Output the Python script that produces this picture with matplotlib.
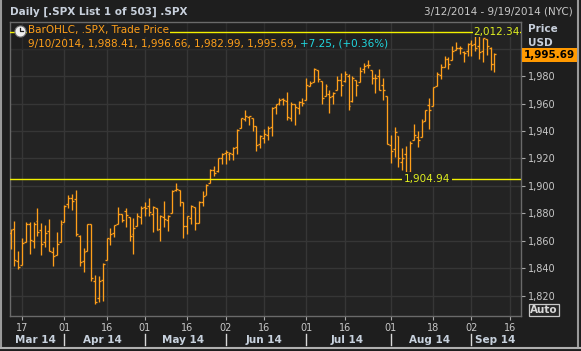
import numpy as np
import pandas as pd
import matplotlib
matplotlib.use('Agg')
import matplotlib.pyplot as plt
from matplotlib.lines import Line2D
import matplotlib.transforms as mtransforms

# trading calendar shown on the axis (NYSE holidays removed)
holidays = ['2014-04-18', '2014-05-26', '2014-07-04', '2014-09-01']
axis_days = pd.bdate_range('2014-03-12', '2014-09-19')
axis_days = axis_days[~axis_days.isin(pd.to_datetime(holidays))]

# daily OHLC of .SPX, 2014-03-12 .. 2014-09-10
opens = [1866.15, 1869.06, 1845.07, 1842.81, 1858.92, 1872.25, 1860.09, 1874.53, 1867.67, 1859.48,
         1867.09, 1852.11, 1850.07, 1859.16,
         1873.96, 1886.61, 1891.43, 1890.25, 1863.92, 1845.48, 1852.64, 1872.28, 1830.65, 1818.18,
         1831.45, 1846.01, 1861.73, 1865.79, 1872.57, 1879.32, 1881.97, 1877.72, 1865.00, 1870.78, 1877.10,
         1884.39, 1885.30, 1879.45, 1883.69, 1868.53, 1877.39, 1875.27, 1880.03, 1896.75, 1897.13,
         1888.16, 1871.19, 1876.66, 1884.88, 1873.34, 1888.19, 1893.32, 1902.01, 1911.77, 1910.60, 1920.33,
         1923.87, 1923.07, 1923.06, 1928.52, 1942.41, 1948.97, 1950.34, 1949.37, 1943.35, 1930.80,
         1934.84, 1937.15, 1942.73, 1957.50, 1960.45, 1962.92, 1961.97, 1949.27, 1959.89, 1956.56, 1960.79,
         1962.29, 1973.06, 1975.88, 1984.22, 1976.39, 1965.10, 1966.67, 1965.76, 1969.86, 1977.36,
         1976.35, 1979.75, 1961.54, 1976.93, 1975.65, 1985.32, 1988.07, 1984.60, 1978.25, 1980.03,
         1973.21, 1965.14,
         1929.80, 1926.62, 1936.34, 1917.29, 1923.03, 1910.35, 1933.43, 1935.73, 1935.60, 1947.41,
         1958.87, 1958.36, 1972.73, 1980.46, 1986.82, 1992.60, 1991.74, 1998.59, 2000.54, 1997.42, 1998.45,
         2004.07, 2003.57, 2001.67, 1998.00, 2007.17, 2000.73, 1988.41]
highs = [1868.38, 1874.40, 1852.44, 1862.30, 1873.76, 1874.14, 1873.49, 1883.97, 1873.34, 1871.87,
         1875.92, 1855.55, 1866.63, 1875.18,
         1885.84, 1893.17, 1893.80, 1897.28, 1864.04, 1854.95, 1872.43, 1872.53, 1835.07, 1834.19,
         1844.02, 1862.31, 1869.63, 1871.89, 1884.89, 1879.75, 1884.06, 1877.72, 1877.01, 1880.60, 1885.20,
         1888.59, 1891.33, 1885.51, 1883.69, 1878.83, 1889.07, 1878.57, 1897.13, 1902.17, 1897.13,
         1888.16, 1878.28, 1886.00, 1884.88, 1888.80, 1896.33, 1901.26, 1912.28, 1914.46, 1920.03, 1924.03,
         1925.88, 1925.07, 1928.63, 1941.74, 1949.44, 1955.55, 1950.86, 1949.37, 1943.35, 1937.30,
         1941.15, 1943.69, 1957.74, 1959.87, 1963.91, 1963.74, 1968.17, 1960.83, 1959.89, 1961.47, 1964.24,
         1978.58, 1976.67, 1985.59, 1984.22, 1976.39, 1974.15, 1969.84, 1968.67, 1979.85, 1982.52,
         1983.94, 1981.80, 1979.91, 1976.93, 1986.24, 1989.23, 1991.39, 1984.60, 1981.52, 1984.85,
         1978.90, 1965.14,
         1937.35, 1942.92, 1936.34, 1927.91, 1928.89, 1932.38, 1944.90, 1939.65, 1948.41, 1955.23,
         1964.04, 1971.99, 1982.57, 1988.57, 1994.76, 1993.54, 2001.95, 2005.04, 2002.14, 1998.55, 2004.36,
         2006.12, 2009.28, 2012.34, 2007.71, 2007.17, 2001.01, 1996.66]
lows = [1854.38, 1841.86, 1839.57, 1842.81, 1858.92, 1850.35, 1854.63, 1863.46, 1849.69, 1855.96,
        1852.56, 1842.11, 1850.07, 1859.16,
        1873.96, 1883.79, 1882.65, 1863.26, 1841.48, 1837.49, 1852.38, 1830.87, 1814.36, 1815.80,
        1816.29, 1846.01, 1856.72, 1863.18, 1872.57, 1873.91, 1870.24, 1859.70, 1850.61, 1870.78, 1872.69,
        1878.04, 1878.50, 1866.77, 1867.72, 1859.79, 1870.05, 1867.02, 1880.03, 1896.06, 1885.77,
        1862.36, 1864.82, 1872.42, 1868.14, 1873.34, 1885.39, 1893.32, 1902.01, 1907.30, 1909.82, 1915.98,
        1915.98, 1918.79, 1918.60, 1922.93, 1942.41, 1947.16, 1944.64, 1940.08, 1925.78, 1927.69,
        1930.91, 1933.55, 1936.16, 1952.26, 1959.17, 1958.89, 1948.34, 1947.49, 1944.69, 1952.18, 1958.22,
        1962.29, 1972.58, 1975.88, 1975.67, 1959.46, 1965.10, 1952.86, 1959.63, 1969.86, 1965.34,
        1975.67, 1955.59, 1960.82, 1965.77, 1975.65, 1982.44, 1985.79, 1974.37, 1967.31, 1969.95,
        1962.42, 1930.67,
        1916.37, 1921.20, 1913.77, 1911.45, 1904.94, 1909.01, 1933.43, 1928.29, 1935.60, 1947.41,
        1941.50, 1958.36, 1972.73, 1977.68, 1986.82, 1984.76, 1991.74, 1998.59, 1996.20, 1990.52, 1994.85,
        1994.85, 1998.14, 1992.44, 1990.10, 1995.60, 1984.61, 1982.99]
closes = [1868.20, 1846.34, 1841.13, 1858.83, 1872.25, 1860.77, 1872.01, 1866.52, 1857.44, 1865.62,
          1852.56, 1849.04, 1857.62, 1872.34,
          1885.52, 1890.90, 1888.77, 1865.09, 1845.04, 1851.96, 1872.18, 1833.08, 1815.69, 1830.61,
          1842.98, 1862.31, 1864.85, 1871.89, 1879.55, 1875.39, 1878.61, 1863.40, 1869.43, 1878.33, 1883.95,
          1883.68, 1881.14, 1884.66, 1867.72, 1878.21, 1875.63, 1878.48, 1896.65, 1897.45, 1888.53,
          1870.85, 1877.86, 1885.08, 1872.83, 1888.03, 1892.49, 1900.53, 1911.91, 1909.78, 1920.03, 1923.57,
          1924.97, 1924.24, 1927.88, 1940.46, 1949.44, 1951.27, 1950.79, 1943.89, 1930.11, 1936.16,
          1937.78, 1941.99, 1956.98, 1959.48, 1962.87, 1962.61, 1949.98, 1959.53, 1957.22, 1960.96, 1960.23,
          1973.32, 1974.62, 1985.44, 1977.65, 1963.71, 1972.83, 1964.68, 1967.57, 1977.10, 1973.28,
          1981.57, 1958.12, 1978.22, 1973.63, 1983.53, 1987.01, 1987.98, 1978.34, 1978.91, 1969.95,
          1970.07, 1930.67,
          1925.15, 1938.99, 1920.21, 1920.24, 1909.57, 1931.59, 1936.92, 1933.75, 1946.72, 1955.18,
          1955.06, 1971.74, 1981.60, 1986.51, 1992.37, 1988.40, 1997.92, 2000.02, 2000.12, 1996.74, 2003.37,
          2002.28, 2000.72, 1997.65, 2007.71, 2001.54, 1988.44, 1995.69]

# the high/low markers cover the window from July on
marker_from = '2014-07-01'

tick_dates = ['2014-03-17', '2014-04-01', '2014-04-16', '2014-05-01', '2014-05-16', '2014-06-02',
              '2014-06-16', '2014-07-01', '2014-07-16', '2014-08-01', '2014-08-18', '2014-09-02',
              '2014-09-16']
y_ticks = [1820, 1840, 1860, 1880, 1900, 1920, 1940, 1960, 1980, 2000]

W, H = 581, 351
BG = '#1e1e1e'
PLOT_BG = '#232323'
GRID = '#363636'
ORANGE = '#ff9f1a'
YELLOW = '#f2f000'
TXT = '#c8c8c8'


def fx(x):
    return x / W


def fy(y):
    return 1 - y / H


fig = plt.figure(figsize=(W / 100, H / 100), dpi=100, facecolor=BG)
ax = fig.add_axes([fx(10), fy(316), fx(521) - fx(10), fy(22) - fy(316)], facecolor=PLOT_BG)

n = len(closes)
x = np.arange(n)
ax.vlines(x, lows, highs, color=ORANGE, lw=0.95, zorder=3)
ax.hlines(opens, x - 0.5, x, color=ORANGE, lw=0.95, zorder=3)
ax.hlines(closes, x, x + 0.5, color=ORANGE, lw=0.95, zorder=3)

ax.set_xlim(-0.15, 132.9)
ax.set_ylim(1805.4, 2019.3)

pos = {d: i for i, d in enumerate(axis_days)}
tick_x = [pos[pd.Timestamp(d)] for d in tick_dates]
ax.set_xticks(tick_x)
ax.set_xticklabels([pd.Timestamp(d).strftime('%d') for d in tick_dates])
ax.set_yticks(y_ticks)
ax.set_yticklabels(['{:,}'.format(v) if v < 2000 else '' for v in y_ticks])
ax.yaxis.tick_right()
ax.tick_params(axis='both', colors='#a8a8a8', labelcolor=TXT, labelsize=7, length=3, width=0.8)
ax.tick_params(axis='x', pad=2)
ax.tick_params(axis='y', pad=2)
ax.grid(True, color=GRID, lw=1.0, zorder=0)
ax.set_axisbelow(True)
for s in ax.spines.values():
    s.set_color('#6a6a6a')
    s.set_linewidth(1.0)

# month labels and separators under the axis
trans = mtransforms.blended_transform_factory(ax.transData, ax.transAxes)
months = pd.Series(range(len(axis_days)), index=axis_days)
for per, grp in months.groupby(axis_days.to_period('M')):
    lo, hi = grp.iloc[0], min(grp.iloc[-1], 132.4)
    ax.text((lo + hi) / 2, -0.083, per.strftime('%b %y'), transform=trans, ha='center', va='center',
            fontsize=7.5, fontweight='bold', color='#c8d2de', clip_on=False)
    if lo > 0:
        ax.add_line(Line2D([lo, lo], [-0.061, -0.100], transform=trans, color='#d8d8d8', lw=1.0,
                           clip_on=False))

# legend band (under the marker lines)
ax.add_patch(plt.Rectangle((fx(10), fy(50)), fx(380) - fx(10), fy(23) - fy(50),
                           transform=fig.transFigure, fc='#1a1a1a', ec='none', alpha=0.35,
                           zorder=1))

# high / low markers
k = pos[pd.Timestamp(marker_from)]
hi_v, lo_v = max(highs[k:]), min(lows[k:])
ax.axhline(hi_v, color=YELLOW, lw=1.0, zorder=4)
ax.axhline(lo_v, color=YELLOW, lw=1.0, zorder=4)
tr2 = mtransforms.blended_transform_factory(ax.transAxes, ax.transData)
ax.text(0.952, hi_v, '{:,.2f}'.format(hi_v), transform=tr2, ha='center', va='center', fontsize=7.5,
        color='#e0f020', zorder=5, bbox=dict(fc=PLOT_BG, ec='none', pad=0.5))
ax.text(0.816, lo_v, '{:,.2f}'.format(lo_v), transform=tr2, ha='center', va='center', fontsize=7.5,
        color='#e0f020', zorder=5, bbox=dict(fc=PLOT_BG, ec='none', pad=1.5))

# legend text
fig.text(fx(28), fy(30.5), 'BarOHLC, .SPX, Trade Price', fontsize=7.5, color=ORANGE, va='center',
         zorder=6, bbox=dict(fc='#1f1f1f', ec='none', pad=0.8))
fig.add_artist(Line2D([fx(20)], [fy(30.5)], marker='o', markersize=8, mfc='#f0f0f0', mec='#707070',
                      mew=0.8, transform=fig.transFigure, zorder=7))
fig.add_artist(Line2D([fx(20), fx(20), fx(22.5)], [fy(27.5), fy(30.5), fy(30.5)], color='#202020',
                      lw=0.9, transform=fig.transFigure, zorder=8))
last = '{}, {:,.2f}, {:,.2f}, {:,.2f}, {:,.2f}, '.format(
    axis_days[n - 1].strftime('%-m/%d/%Y'), opens[-1], highs[-1], lows[-1], closes[-1])
chg = closes[-1] - closes[-2]
t1 = fig.text(fx(28), fy(43.5), last, fontsize=7.5, color=ORANGE, va='center', zorder=6)
fig.canvas.draw()
bb = t1.get_window_extent()
fig.text(bb.x1 / fig.dpi / fig.get_figwidth(), fy(43.5),
         '{:+.2f}, ({:+.2f}%)'.format(chg, chg / closes[-2] * 100), fontsize=7.5, color='#20d8e0',
         va='center', zorder=6)

# header
fig.text(fx(10), fy(12), 'Daily [.SPX List 1 of 503] .SPX', fontsize=7.5, fontweight='bold',
         color='#c8d0dc', va='center')
fig.text(fx(573), fy(12), '3/12/2014 - 9/19/2014 (NYC)', fontsize=7.5, color='#c8c8c8', va='center',
         ha='right')
fig.text(fx(528), fy(29), 'Price', fontsize=7.5, fontweight='bold', color='#c8d0dc', va='center')
fig.text(fx(528), fy(43), 'USD', fontsize=7.5, fontweight='bold', color='#c8d0dc', va='center')
fig.text(fx(524), fy(55), '{:,.2f}'.format(closes[-1]), fontsize=7.5, fontweight='bold', color='black',
         va='center', bbox=dict(fc='#ff9900', ec='none', pad=1.6))
fig.text(fx(530), fy(310), 'Auto', fontsize=7.5, fontweight='bold', color='#d8d8d8', va='center',
         bbox=dict(fc='#262626', ec='#c8c8c8', lw=0.9, pad=0.8))

# window frame
fig.add_artist(Line2D([fx(1), fx(1)], [fy(0), fy(347)], color='#9a9a9a', lw=1.5,
                      transform=fig.transFigure))
fig.add_artist(Line2D([fx(577.5), fx(577.5)], [fy(0), fy(347)], color='#9a9a9a', lw=1.5,
                      transform=fig.transFigure))
fig.add_artist(Line2D([fx(0), fx(581)], [fy(347.5), fy(347.5)], color='#b0b0b0', lw=1.5,
                      transform=fig.transFigure))

fig.savefig('out.png', dpi=100, facecolor=BG)
